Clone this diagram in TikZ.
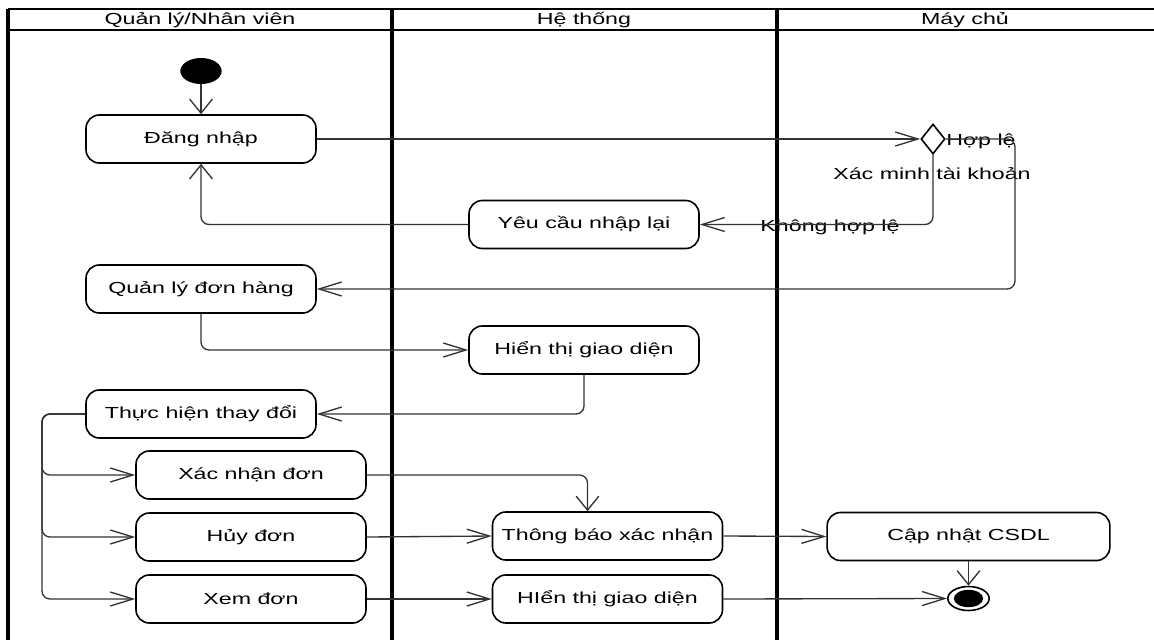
\documentclass[tikz,border=0pt]{standalone}
\usepackage{fontspec}
\setmainfont{Liberation Sans}[FakeStretch=1.45]
\usepackage{tikz}
\usetikzlibrary{shapes.geometric, arrows.meta, positioning, calc}

\begin{document}
\begin{tikzpicture}[x=0.75pt, y=-0.75pt,
    act/.style={draw, line width=1.2pt, rounded corners=10pt, minimum width=172.5pt,
        minimum height=36pt, inner sep=0pt, font=\fontsize{12}{14}\selectfont},
    flow/.style={draw=black!80, line width=1pt, rounded corners=6pt},
    toh/.style={-{Straight Barb[length=17pt, width=10.5pt]}},
    tov/.style={-{Straight Barb[length=10.5pt, width=17pt]}},
    lbl/.style={font=\fontsize{12}{14}\selectfont, inner sep=0pt},
    lane/.style={line width=2.6pt},
    head/.style={line width=1.8pt}]
\useasboundingbox (0,0) rectangle (1154,640);
\fill[white] (0,0) rectangle (1154,640);

% Swimlanes
\draw[head] (8,9) -- (1154,9);
\draw[head] (8,30) -- (1154,30);
\foreach \x in {8,392,777}
    \draw[lane] (\x,9) -- (\x,640);
\node[lbl] (laneuser) at (200,20) {Quản lý/Nhân viên};
\node[lbl] (lanesys) at (584,20) {Hệ thống};
\node[lbl] (lanesrv) at (965,20) {Máy chủ};

% Start and login
\node[ellipse, fill=black, minimum width=31pt, minimum height=19.5pt, inner sep=0pt] (start) at (201,71) {};
\node[act] (login) at (201,139) {Đăng nhập};
\node[diamond, draw, line width=1.2pt, aspect=0.8, minimum width=18pt, minimum height=22.5pt, inner sep=0pt] (check) at (933,139) {};
\node[lbl, anchor=west] (okl) at (946,141) {Hợp lệ};
\node[lbl] (checkl) at (932,174) {Xác minh tài khoản};
\node[act] (retry) at (584,224.5) {Yêu cầu nhập lại};
\node[lbl] (badl) at (830,227) {Không hợp lệ};
\coordinate (loop) at (1015,139);

% Order management
\node[act] (manage) at (201,289) {Quản lý đơn hàng};
\node[act] (show1) at (584,350) {Hiển thị giao diện};
\node[act] (change) at (201,414) {Thực hiện thay đổi};
\coordinate (fork) at (42,414);

% Actions on orders
\node[act] (confirm) at (251,475) {Xác nhận đơn};
\node[act] (cancel) at (251,537) {Hủy đơn};
\node[act] (view) at (251,599) {Xem đơn};
\node[act] (notify) at (607.5,536) {Thông báo xác nhận};
\node[act] (show2) at (607.5,599) {HIển thị giao diện};
\node[act, minimum width=212pt] (update) at (968.5,536.5) {Cập nhật CSDL};
\node[ellipse, draw, line width=1.2pt, fill=white, minimum width=31pt, minimum height=18pt, inner sep=0pt] (final) at (968.5,598.5) {};
\fill (final.center) ellipse (11pt and 6.5pt);

% Flows
\draw[flow, tov] (start) -- (login);
\draw[flow, toh] (login.east) -- (check.west);
\draw[flow, toh] (check.south) |- (retry.east);
\draw[flow, tov] (retry.west) -| (login.south);
\draw[flow, toh] (check.east) -- (loop) |- (manage.east);
\draw[flow, toh] (manage.south) |- (show1.west);
\draw[flow, toh] (show1.south) |- (change.east);
\foreach \b in {confirm, cancel, view}
    \draw[flow, toh] (change.west) -- (fork) |- (\b.west);
\draw[flow, tov] (confirm.east) -| ([xshift=-15pt]notify.north);
\draw[flow, toh] (cancel.east) -- (notify.west);
\draw[flow, toh] (view.east) -- (show2.west);
\draw[flow, toh] (notify.east) -- (update.west);
\draw[flow, tov] (update.south) -- (final.north);
\draw[flow, toh] (show2.east) -- (final.west);
\end{tikzpicture}
\end{document}
